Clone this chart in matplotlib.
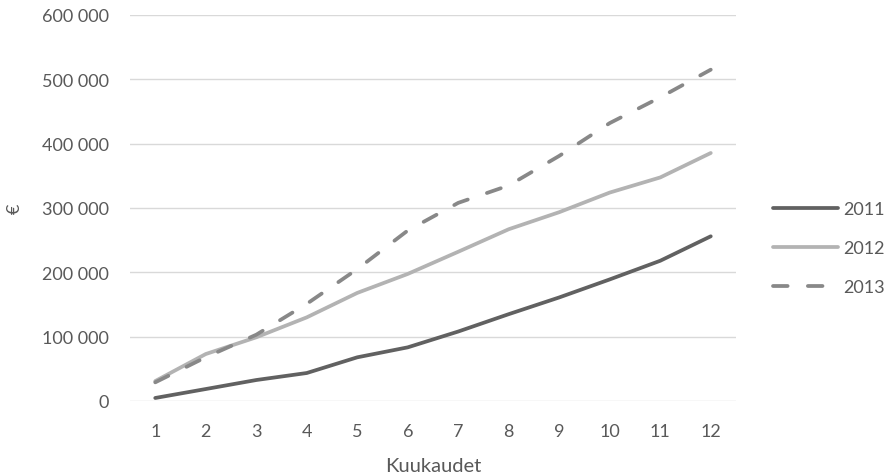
import matplotlib
matplotlib.use("Agg")
import matplotlib.pyplot as plt
from matplotlib.ticker import FuncFormatter

months = list(range(1, 13))
v2011 = [4700, 18600, 32600, 43500, 67900, 83400, 108000, 135000, 161000, 189000, 218000, 256000]
v2012 = [31000, 73000, 99000, 130000, 168000, 197500, 232000, 267000, 293500, 324000, 347500, 385500]
v2013 = [29000, 68000, 103000, 151000, 205000, 265000, 308000, 335000, 381000, 432000, 472000, 515000]
series_labels = ["2011", "2012", "2013"]

plt.rcParams['font.family'] = ['Lato', 'DejaVu Sans']
txt = '#595959'

fig = plt.figure(figsize=(8.85, 4.77), dpi=100)
ax = fig.add_axes([130/885, 1-402/477, 606/885, (402-16)/477])

ax.plot(months, v2011, color='#616161', lw=2.7, solid_capstyle='round', label=series_labels[0])
ax.plot(months, v2012, color='#b3b3b3', lw=2.7, solid_capstyle='round', label=series_labels[1])
ax.plot(months, v2013, color='#888888', lw=2.7, dashes=(3.9, 5.4), dash_capstyle='round', label=series_labels[2])

ax.set_xlim(0.5, 12.5)
ax.set_ylim(0, 600000)
ax.set_yticks(range(0, 600001, 100000))
ax.set_xticks(months)
ax.yaxis.set_major_formatter(FuncFormatter(lambda v, p: f"{int(v):,}".replace(",", " ")))
ax.grid(axis='y', color='#d9d9d9', lw=1)
ax.set_axisbelow(True)
for s in ax.spines.values():
    s.set_visible(False)
ax.tick_params(axis='both', length=0, colors=txt, labelsize=13)
ax.tick_params(axis='y', pad=15)
ax.tick_params(axis='x', pad=15.5)
ax.set_xlabel("Kuukaudet", color=txt, fontsize=14.5, labelpad=13.5)
ax.set_ylabel("€", color=txt, fontsize=13, labelpad=14)

leg = fig.legend(loc='center left', bbox_to_anchor=(773/885, 1-249/477), frameon=False,
                 fontsize=13, handlelength=3.6, handletextpad=0.28, labelspacing=1.28,
                 borderpad=0, borderaxespad=0, labelcolor=txt)
fig.savefig("out.png", dpi=100)
